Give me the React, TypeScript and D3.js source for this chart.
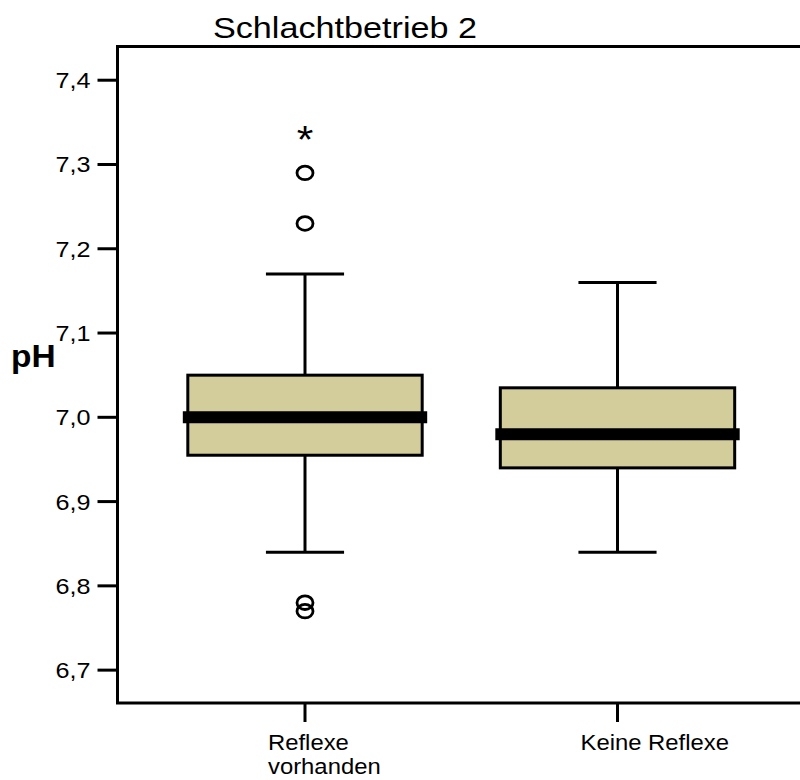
// @ts-nocheck
import * as d3 from "d3";

const categories = ["Reflexe vorhanden", "Keine Reflexe"];
const q1 = [6.955, 6.94];
const medians = [7.0, 6.98];
const q3 = [7.05, 7.035];
const whiskerLow = [6.84, 6.84];
const whiskerHigh = [7.17, 7.16];
const outliers = [[7.29, 7.23, 6.78, 6.77], []];
const extremes = [[7.34], []];
const yTicks = [6.7, 6.8, 6.9, 7.0, 7.1, 7.2, 7.3, 7.4];
const title = "Schlachtbetrieb 2";

const width = 800;
const height = 780;
const margin = { top: 46.5, right: -5, bottom: 77, left: 117.5 };
const font = "'Liberation Sans', Arial, sans-serif";

const App = () => {
  const x = d3
    .scaleBand()
    .domain(categories)
    .range([margin.left, width - margin.right])
    .paddingInner(0)
    .paddingOuter(0.1);

  const y = d3
    .scaleLinear()
    .domain([6.661, 7.44])
    .range([height - margin.bottom, margin.top]);

  const boxW = x.bandwidth() * 0.75;
  const capW = boxW / 3;
  const fmt = (v) => d3.format(".1f")(v).replace(".", ",");
  const bottom = height - margin.bottom;

  return (
    <svg
      width={width}
      height={height}
      style={{ position: "absolute", left: 0, top: 0, background: "#fff" }}
      fontFamily={font}
    >
      {/* titel */}
      <text x={213} y={38} fontSize={30} textLength={264} lengthAdjust="spacingAndGlyphs">
        {title}
      </text>

      {/* y-achse ticks */}
      {yTicks.map((t) => (
        <g key={t}>
          <line x1={margin.left - 20} x2={margin.left} y1={y(t)} y2={y(t)} stroke="#000" strokeWidth={3} />
          <text
            transform={`translate(${margin.left - 27},${y(t) + 8}) scale(1.12,1)`}
            textAnchor="end"
            fontSize={22.5}
          >
            {fmt(t)}
          </text>
        </g>
      ))}

      <text transform={`translate(11,367) scale(1.08,1)`} fontSize={31} fontWeight="bold">
        pH
      </text>

      {/* boxen */}
      {categories.map((c, i) => {
        const cx = x(c) + x.bandwidth() / 2;
        return (
          <g key={c}>
            <line x1={cx} x2={cx} y1={y(whiskerHigh[i])} y2={y(q3[i])} stroke="#000" strokeWidth={3} />
            <line x1={cx} x2={cx} y1={y(q1[i])} y2={y(whiskerLow[i])} stroke="#000" strokeWidth={3} />
            <line x1={cx - capW / 2} x2={cx + capW / 2} y1={y(whiskerHigh[i])} y2={y(whiskerHigh[i])} stroke="#000" strokeWidth={3} />
            <line x1={cx - capW / 2} x2={cx + capW / 2} y1={y(whiskerLow[i])} y2={y(whiskerLow[i])} stroke="#000" strokeWidth={3} />
            <rect
              x={cx - boxW / 2}
              y={y(q3[i])}
              width={boxW}
              height={y(q1[i]) - y(q3[i])}
              fill="#d3cc9b"
              stroke="#000"
              strokeWidth={3}
            />
            <line x1={cx - boxW / 2 - 5} x2={cx + boxW / 2 + 5} y1={y(medians[i])} y2={y(medians[i])} stroke="#000" strokeWidth={12} />
            {outliers[i].map((v, j) => (
              <ellipse key={j} cx={cx} cy={y(v)} rx={8} ry={6.8} fill="none" stroke="#000" strokeWidth={2.8} />
            ))}
            {extremes[i].map((v, j) => (
              <text
                key={j}
                transform={`translate(${cx},${y(v) + 22}) scale(1.12,1)`}
                textAnchor="middle"
                fontSize={38}
              >
                *
              </text>
            ))}
            <line x1={cx} x2={cx} y1={bottom} y2={bottom + 19} stroke="#000" strokeWidth={3} />
          </g>
        );
      })}

      {/* kategorien */}
      {categories.map((c) => {
        const cx = x(c) + x.bandwidth() / 2;
        const words = c === "Reflexe vorhanden" ? ["Reflexe", "vorhanden"] : [c];
        return (
          <text key={c} fontSize={22.5} transform={`translate(${cx - 37},750) scale(1.06,1)`}>
            {words.map((w, k) => (
              <tspan key={k} x={0} dy={k === 0 ? 0 : 24}>
                {w}
              </tspan>
            ))}
          </text>
        );
      })}

      {/* rahmen */}
      <rect
        x={margin.left}
        y={margin.top}
        width={width - margin.right - margin.left}
        height={bottom - margin.top}
        fill="none"
        stroke="#000"
        strokeWidth={3}
      />
    </svg>
  );
};

export default App;
